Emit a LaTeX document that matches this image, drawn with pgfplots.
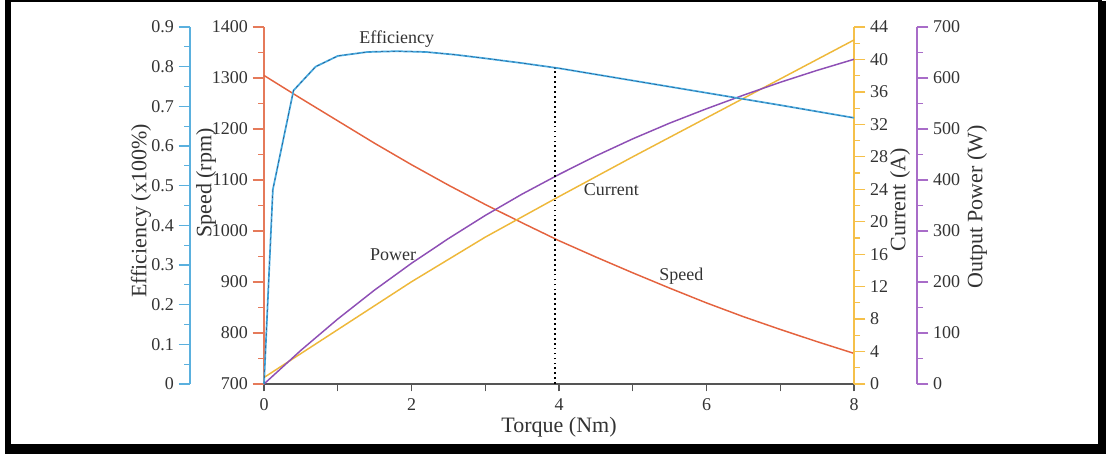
\documentclass[border=0pt]{standalone}
\usepackage{pgfplots}
\pgfplotsset{compat=1.18}
\usepackage{fontspec}
\setmainfont{Liberation Serif}
\definecolor{cspeed}{HTML}{E4633F}
\definecolor{ccur}{HTML}{EEB83A}
\definecolor{cpow}{HTML}{8E4FB5}
\definecolor{ceff}{HTML}{45A8DE}
\definecolor{ceffd}{HTML}{24507F}
\definecolor{axeff}{HTML}{5AB0DE}
\definecolor{axspeed}{HTML}{E57A5A}
\definecolor{axcur}{HTML}{F5C04A}
\definecolor{axpow}{HTML}{A86CC8}
\definecolor{tgray}{HTML}{333333}
\definecolor{axgray}{HTML}{555555}
\begin{document}
\begin{tikzpicture}[x=0.75pt,y=0.75pt]
\path[use as bounding box] (0,0) rectangle (1106,456);
% frame with shadow
\fill[black] (5,2) rectangle (1106,12);
\fill[black] (1098,2) rectangle (1106,455);
\fill[black] (5,2) rectangle (11,455);
\draw[black, line width=1.5] (5,455) -- (1102,455);
\pgfplotsset{
  every axis/.append style={
    scale only axis, height=267.75pt,
    tick align=outside,
    /pgf/number format/assume math mode=true,
    /pgf/number format/1000 sep={},
    tick label style={font=\fontsize{13.5}{13.5}\selectfont, text=tgray},
    axis line style={line width=0.9pt},
    every tick/.style={line width=0.9pt},
    major tick length=8.5pt, minor tick length=4.5pt,
    clip=false,
  }
}
% x axis
\begin{axis}[at={(198pt,54pt)}, width=442.5pt, xmin=0, xmax=8, ymin=0, ymax=1,
  axis x line*=bottom, axis y line=none,
  x axis line style={draw=axgray},
  xtick={0,2,4,6,8}, minor xtick={1,3,5,7},
  every tick/.style={line width=0.9pt, draw=axgray},
  major tick length=5.5pt, minor tick length=5.5pt,
  xticklabel style={yshift=-2pt}]
\end{axis}
% speed axis
\begin{axis}[at={(198pt,54pt)}, width=442.5pt, xmin=0, xmax=8, ymin=700, ymax=1400,
  axis x line=none, axis y line*=left,
  y axis line style={draw=axspeed},
  every tick/.style={line width=0.9pt, draw=axspeed},
  ytick={700,800,900,1000,1100,1200,1300,1400},
  minor ytick={750,850,950,1050,1150,1250,1350}]
\addplot[cspeed, line width=1.1pt] coordinates {(0,1305)(0.5,1260)(1,1216)(1.5,1172)(2,1130)(2.5,1090)(3,1052)(3.5,1016)(4,981)(4.5,949)(5,918)(5.5,888)(6,859)(6.5,832)(7,807)(7.5,783)(8,760)};
\node[font=\fontsize{13.5}{13.5}\selectfont, text=tgray] at (axis cs:1.80,1376) {Efficiency};
\node[font=\fontsize{13.5}{13.5}\selectfont, text=tgray] at (axis cs:4.71,1082) {Current};
\node[font=\fontsize{13.5}{13.5}\selectfont, text=tgray] at (axis cs:1.75,953) {Power};
\node[font=\fontsize{13.5}{13.5}\selectfont, text=tgray] at (axis cs:5.66,912) {Speed};
\end{axis}
% current axis
\begin{axis}[at={(198pt,54pt)}, width=442.5pt, xmin=0, xmax=8, ymin=0, ymax=44,
  axis x line=none, axis y line*=right,
  y axis line style={draw=axcur},
  every tick/.style={line width=0.9pt, draw=axcur},
  ytick={0,4,8,12,16,20,24,28,32,36,40,44},
  minor ytick={2,6,10,14,18,22,26,30,34,38,42}]
\addplot[ccur, line width=1.1pt] coordinates {(0,0.8)(1,6.7)(2,12.6)(3,18.1)(4,23.1)(5,28.0)(6,32.8)(7,37.6)(8,42.4)};
\end{axis}
% power axis
\begin{axis}[at={(198pt,54pt)}, width=489.75pt, xmin=0, xmax=8.854, ymin=0, ymax=700,
  axis x line=none, axis y line*=right,
  y axis line style={draw=axpow},
  every tick/.style={line width=0.9pt, draw=axpow},
  ytick={0,100,200,300,400,500,600,700},
  minor ytick={50,150,250,350,450,550,650}]
\addplot[cpow, line width=1.1pt] coordinates {(0,0)(0.5,66.0)(1,127.4)(1.5,184.3)(2,236.7)(2.5,285.1)(3,330.5)(3.5,372.4)(4,410.9)(4.5,447.2)(5,480.7)(5.5,511.5)(6,539.7)(6.5,566.3)(7,591.6)(7.5,615.0)(8,636.7)};
\end{axis}
% efficiency axis
\begin{axis}[at={(142.5pt,54pt)}, width=498pt, xmin=-1.0034, xmax=8, ymin=0, ymax=0.9,
  axis x line=none, axis y line*=left,
  y axis line style={draw=axeff},
  every tick/.style={line width=0.9pt, draw=axeff},
  ytick={0,0.1,0.2,0.3,0.4,0.5,0.6,0.7,0.8,0.9},
  minor ytick={0.05,0.15,0.25,0.35,0.45,0.55,0.65,0.75,0.85},
  yticklabel style={/pgf/number format/fixed, /pgf/number format/precision=1}]
\addplot[black, line width=1.4pt, dash pattern=on 1.3pt off 2.4pt] coordinates {(3.95,0)(3.95,0.797)};
\addplot[ceff, line width=1.3pt] coordinates {(0,0)(0.12,0.49)(0.4,0.74)(0.7,0.80)(1.0,0.827)(1.4,0.837)(1.8,0.839)(2.2,0.837)(2.6,0.83)(3,0.821)(3.5,0.809)(4,0.796)(5,0.765)(6,0.734)(7,0.703)(8,0.671)};
\addplot[ceffd, line width=0.4pt, dash pattern=on 2pt off 2.5pt] coordinates {(0,0)(0.12,0.49)(0.4,0.74)(0.7,0.80)(1.0,0.827)(1.4,0.837)(1.8,0.839)(2.2,0.837)(2.6,0.83)(3,0.821)(3.5,0.809)(4,0.796)(5,0.765)(6,0.734)(7,0.703)(8,0.671)};
\end{axis}
% axis titles
\node[rotate=90, font=\fontsize{16.5}{16.5}\selectfont, text=tgray] at (141,245) {Efficiency (x100\%)};
\node[rotate=90, font=\fontsize{16.5}{16.5}\selectfont, text=tgray] at (206,273) {Speed (rpm)};
\node[rotate=90, font=\fontsize{16.5}{16.5}\selectfont, text=tgray] at (900,256) {Current (A)};
\node[rotate=90, font=\fontsize{16.5}{16.5}\selectfont, text=tgray] at (977,249) {Output Power (W)};
\node[font=\fontsize{16.5}{16.5}\selectfont, text=tgray] at (559,29) {Torque (Nm)};
\end{tikzpicture}
\end{document}
